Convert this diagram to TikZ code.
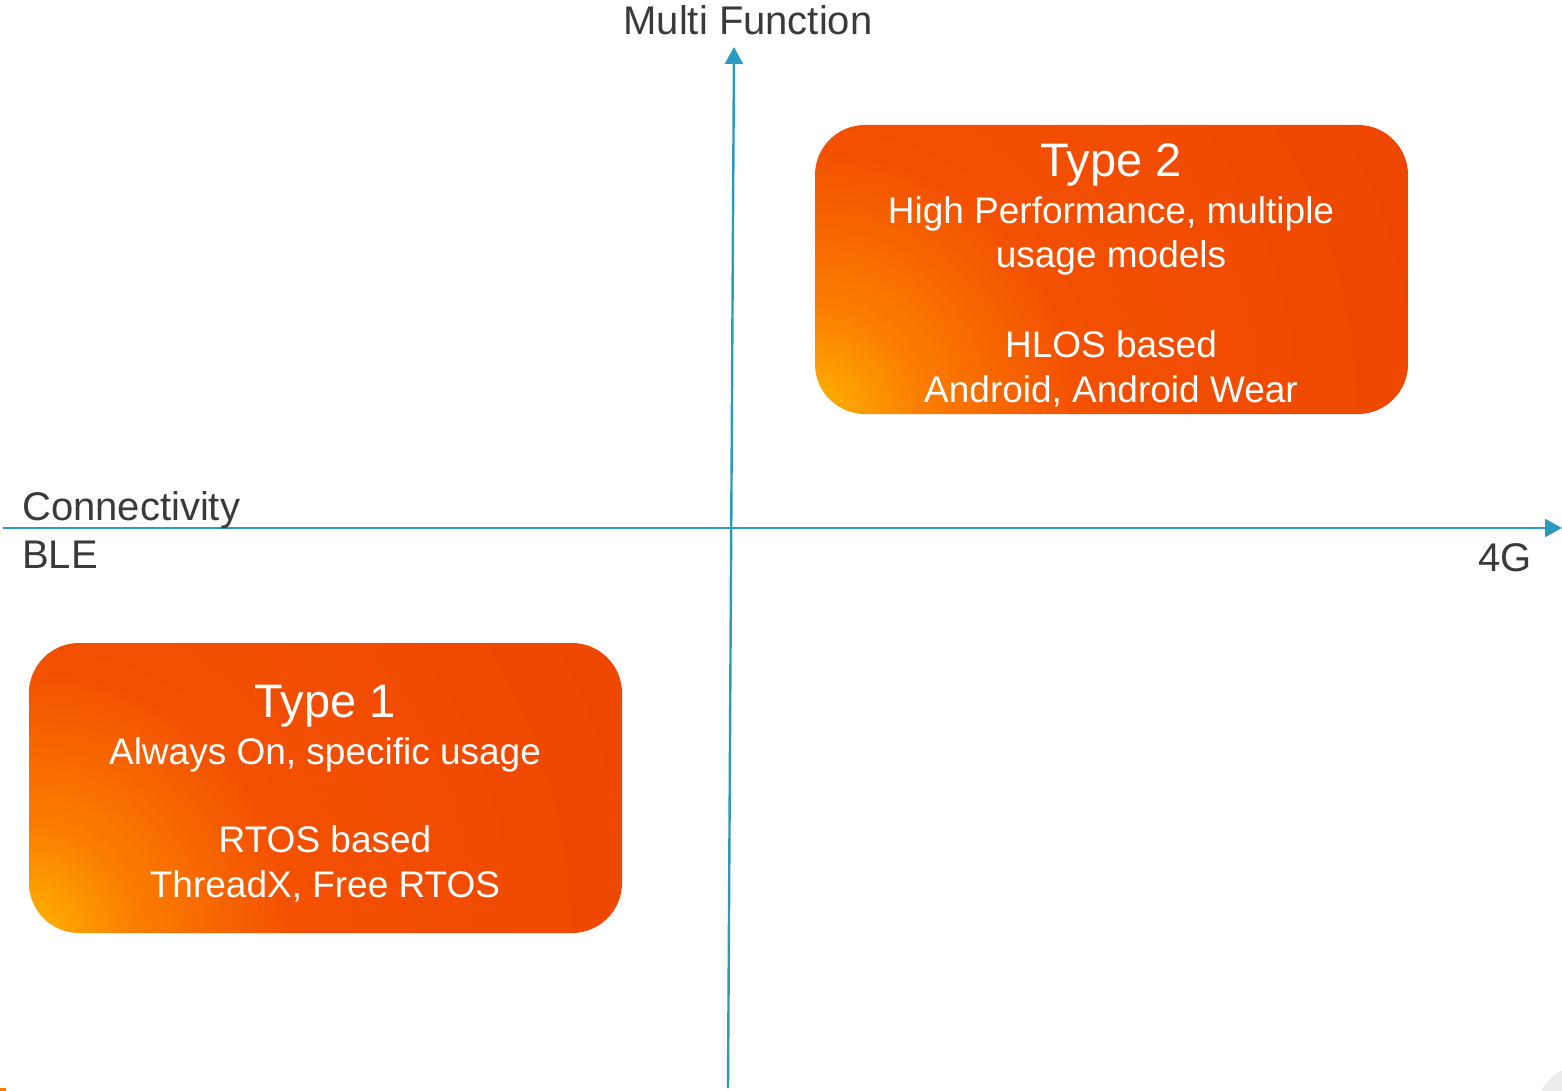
\documentclass[tikz,border=0pt]{standalone}
\usepackage{fontspec}
\setmainfont{Liberation Sans}
\usetikzlibrary{arrows.meta}
\definecolor{axiscol}{HTML}{2C9AC0}
\definecolor{labelcol}{HTML}{3A3A3A}
\definecolor{yelc}{HTML}{FFB400}
\definecolor{orgc}{HTML}{FA7E00}
\definecolor{redc}{HTML}{F35000}
\definecolor{deepc}{HTML}{EE4600}
\pgfdeclareradialshading{cornershade}{\pgfpoint{0bp}{0bp}}{color(0bp)=(yelc); color(4bp)=(orgc); color(10bp)=(redc); color(25bp)=(deepc); color(50bp)=(deepc)}
\tikzset{
  axis/.style={draw=axiscol, line width=2.4pt, -{Triangle[length=17pt,width=18pt]}},
  axlabel/.style={text=labelcol, font=\fontsize{40}{48}\selectfont, inner sep=0pt},
  title/.style={text=white, font=\fontsize{47}{56}\selectfont, inner sep=0pt, anchor=base},
  body/.style={text=white, font=\fontsize{37}{44}\selectfont, inner sep=0pt, anchor=base},
}
\begin{document}
\begin{tikzpicture}[x=1pt,y=-1pt]
\useasboundingbox (0,0) rectangle (1562,1091);
% corner remnants
\fill[gray!15] (1585,1115) circle (50);
\fill[orgc] (0,1088) rectangle (6,1091);
% boxes
\begin{scope}
  \clip[rounded corners=50pt] (815,125) rectangle (1408,414);
  \shade[shading=cornershade] (815,414) circle (660);
\end{scope}
\begin{scope}
  \clip[rounded corners=50pt] (29,643) rectangle (622,933);
  \shade[shading=cornershade] (29,933) circle (660);
\end{scope}
% axes
\coordinate (yb) at (728,1088);
\coordinate (yt) at (734,47);
\coordinate (xl) at (3,528);
\coordinate (xr) at (1562,528);
\draw[axis] (yb) -- (yt);
\draw[axis] (xl) -- (xr);
% axis labels
\node[axlabel, anchor=base] (mf) at (748,35) {Multi Function};
\node[axlabel, anchor=base west] (conn) at (22,520) {Connectivity};
\node[axlabel, anchor=base west] (ble) at (22,568) {BLE};
\node[axlabel, anchor=base east] (fg) at (1532,571) {4G};
% box 2 text
\node[title] (t2) at (1111,177) {Type 2};
\node[body] (t2a) at (1111,224) {High Performance, multiple};
\node[body] (t2b) at (1111,268) {usage models};
\node[body] (t2c) at (1111,357) {HLOS based};
\node[body] (t2d) at (1111,402) {Android, Android Wear};
% box 1 text
\node[title] (t1) at (325,717) {Type 1};
\node[body] (t1a) at (325,764) {Always On, specific usage};
\node[body] (t1b) at (325,852) {RTOS based};
\node[body] (t1c) at (325,897) {ThreadX, Free RTOS};
\end{tikzpicture}
\end{document}
